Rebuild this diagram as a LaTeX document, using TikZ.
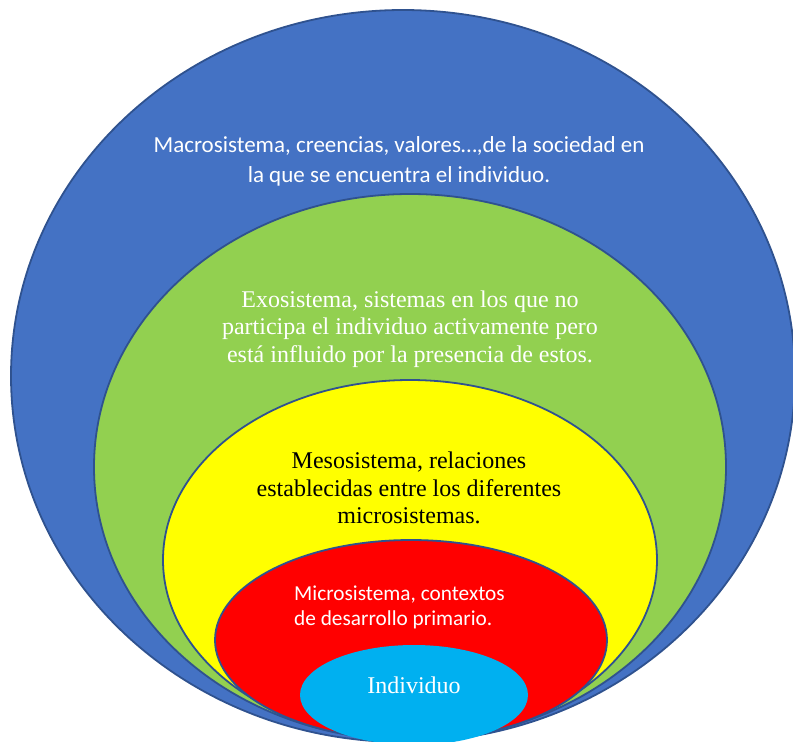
\documentclass[tikz,border=0pt]{standalone}
\usepackage{fontspec}
\setmainfont{Liberation Serif}
\newfontfamily\calibrilike{Carlito}
\usetikzlibrary{shapes.geometric}
\definecolor{outlineblue}{HTML}{2F528F}
\definecolor{macroblue}{HTML}{4472C4}
\definecolor{exogreen}{HTML}{92D050}
\definecolor{mesoyellow}{HTML}{FFFF00}
\definecolor{microred}{HTML}{FF0000}
\definecolor{indivcyan}{HTML}{00B0F0}
\tikzset{
  layer/.style={ellipse, inner sep=0pt, draw=outlineblue, line width=1.8pt},
  serifwhite/.style={text=white, font=\fontsize{24}{27.6}\selectfont, align=center},
  serifblack/.style={text=black, font=\fontsize{24}{27.6}\selectfont, align=center},
  sanswhite/.style={text=white, font=\calibrilike\fontsize{23}{30}\selectfont, align=center},
}
\begin{document}
\begin{tikzpicture}[x=1pt, y=-1pt]
  \useasboundingbox (0,0) rectangle (793,742);
  \clip (0,0) rectangle (793,742);
  % nested systems, all touching at the bottom
  \node[layer, fill=macroblue, minimum width=784pt, minimum height=732pt] (macro) at (403,376) {};
  \node[layer, fill=exogreen, minimum width=632pt, minimum height=546pt] (exo) at (410,467) {};
  \node[layer, fill=mesoyellow, minimum width=494pt, minimum height=360pt] (meso) at (410,560) {};
  \node[layer, fill=microred, minimum width=392pt, minimum height=200pt] (micro) at (411,640) {};
  \node[ellipse, inner sep=0pt, fill=indivcyan, minimum width=228pt, minimum height=100pt] (indiv) at (414,695) {};
  % labels
  \node[sanswhite] (macrotext) at (399,161) {Macrosistema, creencias, valores…,de la sociedad en\\la que se encuentra el individuo.};
  \node[serifwhite] (exotext) at (410,329) {Exosistema, sistemas en los que no\\participa el individuo activamente pero\\está influido por la presencia de estos.};
  \node[serifblack] (mesotext) at (409,488) {Mesosistema, relaciones\\establecidas entre los diferentes\\microsistemas.};
  \node[text=white, font=\calibrilike\fontsize{21.3}{25}\selectfont, align=left, anchor=west, inner sep=0pt] (microtext) at (294,607) {Microsistema, contextos\\de desarrollo primario.};
  \node[text=white, font=\fontsize{24}{27.6}\selectfont, anchor=base] (indivtext) at (414,693) {Individuo};
\end{tikzpicture}
\end{document}
